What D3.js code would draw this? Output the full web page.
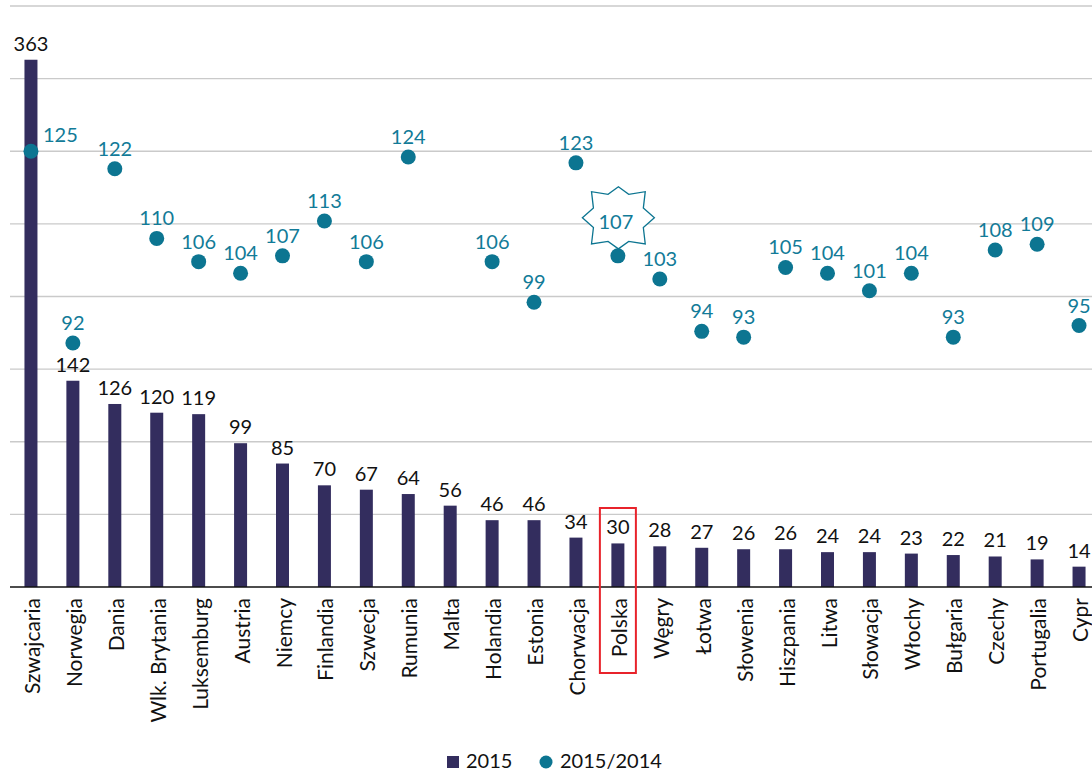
<!DOCTYPE html>
<html>
<head>
<meta charset="utf-8">
<script src="https://cdn.jsdelivr.net/npm/d3@7"></script>
<style>
  body { margin: 0; background: #fff; }
  svg { display: block; font-family: Lato, "Open Sans", sans-serif; }
</style>
</head>
<body>
<svg id="chart" width="1092" height="771"></svg>
<script>
// data
var countries = ['Szwajcaria','Norwegia','Dania','Wlk. Brytania','Luksemburg','Austria','Niemcy',
  'Finlandia','Szwecja','Rumunia','Malta','Holandia','Estonia','Chorwacja','Polska','Węgry',
  'Łotwa','Słowenia','Hiszpania','Litwa','Słowacja','Włochy','Bułgaria','Czechy','Portugalia','Cypr'];
var values2015 = [363,142,126,120,119,99,85,70,67,64,56,46,46,34,30,28,27,26,26,24,24,23,22,21,19,14];
var change2015_2014 = [125,92,122,110,106,104,107,113,106,124,null,106,99,123,107,103,94,93,105,104,101,104,93,108,109,95];
var legendLabels = ['2015','2015/2014'];
var highlight = 'Polska';

var barColor = '#332d5e';
var dotColor = '#0c7591';
var dotText = '#127b98';

var svg = d3.select('#chart');
var x0 = 10, x1 = 1100, yTop = 6, base = 587;

var xs = d3.scaleBand().domain(countries).range([x0, x1]);
var ys = d3.scaleLinear().domain([0, 400]).range([base, yTop]);
var ys2 = d3.scaleLinear().domain([50, 150]).range([base, yTop]);

var data = countries.map(function(c, i) {
  return {name: c, v: values2015[i], r: change2015_2014[i]};
});
function cx(d) { return xs(d.name) + xs.bandwidth() / 2; }

// gridlines
svg.append('g')
  .selectAll('line')
  .data(ys.ticks(8).filter(function(t) { return t > 0; }))
  .enter()
  .append('line')
  .attr('x1', x0).attr('x2', 1092)
  .attr('y1', function(d) { return ys(d); })
  .attr('y2', function(d) { return ys(d); })
  .attr('stroke', '#cacaca')
  .attr('stroke-width', 1.3);

// bars
var bw = 13;
svg.append('g')
  .selectAll('rect')
  .data(data)
  .enter()
  .append('rect')
  .attr('x', function(d) { return cx(d) - bw / 2; })
  .attr('y', function(d) { return ys(d.v); })
  .attr('width', bw)
  .attr('height', function(d) { return base - ys(d.v); })
  .attr('fill', barColor);

// baseline
svg.append('line')
  .attr('x1', x0).attr('x2', 1092)
  .attr('y1', base).attr('y2', base)
  .attr('stroke', '#111').attr('stroke-width', 1.5);

// bar value labels
svg.append('g')
  .selectAll('text')
  .data(data)
  .enter()
  .append('text')
  .attr('x', cx)
  .attr('y', function(d) { return ys(d.v) - 9; })
  .attr('text-anchor', 'middle')
  .style('font-size', '20px')
  .attr('fill', '#111')
  .text(function(d) { return d.v; });

// x labels
svg.append('g')
  .selectAll('text')
  .data(data)
  .enter()
  .append('text')
  .attr('transform', function(d) { return 'translate(' + (cx(d) + 9) + ',598) rotate(-90)'; })
  .attr('text-anchor', 'end')
  .style('font-size', '21px')
  .attr('fill', '#111')
  .text(function(d) { return d.name; });

// star around Polska ratio label (8 points, a bit wider than tall)
var pol = data.filter(function(d) { return d.name === highlight; })[0];
var starPts = d3.range(16).map(function(i) {
  var a = i * Math.PI / 8;
  var sx, sy;
  if (i % 2) { sx = 27; sy = 25.5; }
  else if (i % 4) { sx = 38; sy = 37; }
  else { sx = 36; sy = 31; }
  return [Math.sin(a) * sx, -Math.cos(a) * sy];
});
svg.append('path')
  .attr('transform', 'translate(' + (cx(pol) + 0.5) + ',' + (ys2(pol.r) - 38) + ')')
  .attr('d', d3.line()(starPts) + 'Z')
  .attr('fill', '#fff')
  .attr('stroke', dotColor)
  .attr('stroke-width', 1.3);

// dots
var dd = data.filter(function(d) { return d.r != null; });
svg.append('g')
  .selectAll('circle')
  .data(dd)
  .enter()
  .append('circle')
  .attr('cx', cx)
  .attr('cy', function(d) { return ys2(d.r); })
  .attr('r', 7.5)
  .attr('fill', dotColor);

// dot labels
svg.append('g')
  .selectAll('text')
  .data(dd)
  .enter()
  .append('text')
  .attr('x', function(d, i) {
    if (i === 0) return cx(d) + 12;
    if (d.name === highlight) return cx(d) - 2;
    return cx(d);
  })
  .attr('y', function(d, i) {
    if (i === 0) return ys2(d.r) - 9;
    if (d.name === highlight) return ys2(d.r) - 27;
    return ys2(d.r) - 13;
  })
  .attr('text-anchor', function(d, i) { return i === 0 ? 'start' : 'middle'; })
  .style('font-size', '20px')
  .attr('fill', dotText)
  .text(function(d) { return d.r; });

// red box around Polska
svg.append('rect')
  .attr('x', cx(pol) - 18)
  .attr('y', ys(0) - 79)
  .attr('width', 36)
  .attr('height', 165)
  .attr('fill', 'none')
  .attr('stroke', '#e8232b')
  .attr('stroke-width', 2);

// legend
var lg = svg.append('g');
lg.append('rect').attr('x', 447).attr('y', 756).attr('width', 12).attr('height', 12).attr('fill', barColor);
lg.append('text').attr('x', 466).attr('y', 768).style('font-size', '20px').attr('fill', '#111').text(legendLabels[0]);
lg.append('circle').attr('cx', 546).attr('cy', 762).attr('r', 6.5).attr('fill', dotColor);
lg.append('text').attr('x', 560).attr('y', 768).style('font-size', '20px').attr('fill', '#111').text(legendLabels[1]);
</script>
</body>
</html>
